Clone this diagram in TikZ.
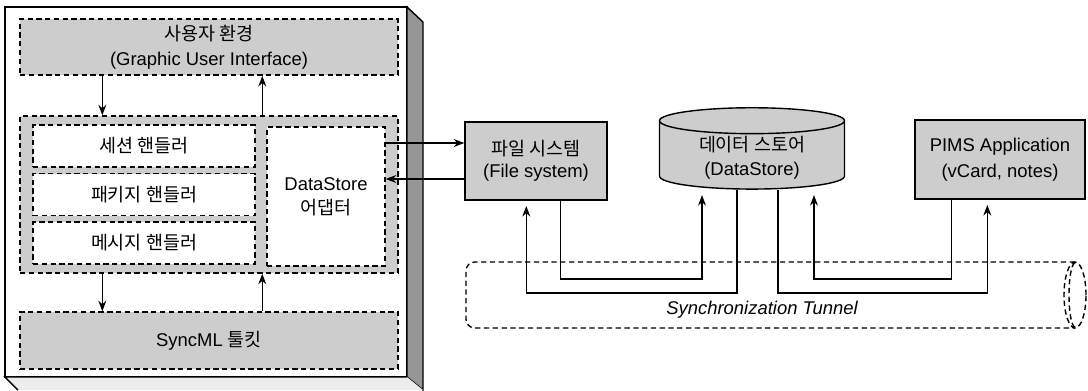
\documentclass[tikz,border=0pt]{standalone}
\usepackage{fontspec}
\setmainfont{Liberation Sans}
\newfontfamily\kr{Noto Sans CJK KR}
\usetikzlibrary{arrows.meta, shapes.geometric, positioning}
\definecolor{dots}{RGB}{205,205,205}
\definecolor{sideface}{RGB}{150,150,150}

\begin{document}
\begin{tikzpicture}[x=0.02cm, y=-0.02cm, line width=0.8pt,
    font=\fontsize{10.5}{12.5}\selectfont, >={Stealth[length=6pt, width=4.5pt]},
    dashline/.style={dash pattern=on 3pt off 2pt},
    layer/.style={draw, dashline, fill=dots, minimum width=7.56cm, align=center},
    part/.style={draw, dashline, fill=white, align=center},
    store/.style={draw, fill=dots, align=center},
    tunnel/.style={draw, dashline}]

    \useasboundingbox (0,0) rectangle (1088,390);

    % Slab
    \draw[fill=white] (5,7) rectangle (407,377);
    \draw[fill=sideface] (407,7) -- (423,22) -- (423,390) -- (407,377) -- cycle;
    \fill[gray!15] (5,377) -- (407,377) -- (423,390) -- (18,390) -- cycle;
    \draw (18,390) -- (5,377) -- (407,377);

    % Layers
    \node[layer, minimum height=1.12cm] (gui) at (209,47) {{\kr 사용자 환경}\\[2pt](Graphic User Interface)};
    \node[layer, minimum height=3.14cm] (core) at (209,194.5) {};
    \node[layer, minimum height=1.14cm] (toolkit) at (209,340.5) {SyncML {\kr 툴킷}};

    \node[part, minimum width=4.44cm, minimum height=0.84cm] (session) at (144,146) {\kr 세션 핸들러};
    \node[part, minimum width=4.44cm, minimum height=0.84cm] (package) at (144,194.5) {\kr 패키지 핸들러};
    \node[part, minimum width=4.44cm, minimum height=0.84cm] (message) at (144,243) {\kr 메시지 핸들러};
    \node[part, minimum width=2.36cm, minimum height=2.78cm] (adapter) at (326,196.5) {DataStore\\[1pt]{\kr 어댑터}};

    \draw[->] ([xshift=1.66cm]gui.south west) -- ([xshift=1.66cm]core.north west);
    \draw[<-] ([xshift=4.86cm]gui.south west) -- ([xshift=4.86cm]core.north west);
    \draw[->] ([xshift=1.66cm]core.south west) -- ([xshift=1.66cm]toolkit.north west);
    \draw[<-] ([xshift=4.86cm]core.south west) -- ([xshift=4.86cm]toolkit.north west);

    % Stores
    \node[store, minimum width=2.84cm, minimum height=1.56cm] (files) at (536,161) {{\kr 파일 시스템}\\(File system)};
    \node[store, cylinder, shape border rotate=90, aspect=0.22, inner ysep=1pt, minimum width=3.7cm, minimum height=1.2cm] (datastore) at (752,157.5) {{\kr 데이터 스토어}\\[1pt](DataStore)};
    \node[store, minimum width=3.4cm, minimum height=1.58cm] (pims) at (1000,159.5) {PIMS Application\\[2pt](vCard, notes)};

    \coordinate (fsin) at ([yshift=0.36cm]files.west);
    \coordinate (fsout) at ([yshift=-0.36cm]files.west);
    \draw[->] (fsin -| adapter.east) -- (fsin);
    \draw[<-] (fsout -| adapter.east) -- (fsout);

    % Tunnel
    \draw[tunnel, fill=white, rounded corners=5pt] (1075,262) -- (466,262) -- (466,328) -- (1075,328);
    \draw[tunnel] (1075,295) ellipse [x radius=0.22cm, y radius=0.66cm];
    \draw[tunnel] (1075,263) arc[start angle=90, end angle=270, x radius=0.12cm, y radius=0.64cm];
    \node[font=\fontsize{10.5}{12.5}\selectfont\itshape] (label) at (762,310) {Synchronization Tunnel};

    \coordinate (lo) at (0,279);
    \coordinate (hi) at (0,293);
    \coordinate (fs1) at ([xshift=1.24cm]files.south west);
    \coordinate (fs2) at ([xshift=1.92cm]files.south west);
    \coordinate (ds1) at ([xshift=-1.0cm]datastore.south);
    \coordinate (ds2) at ([xshift=-0.3cm]datastore.south);
    \coordinate (ds3) at ([xshift=0.52cm]datastore.south);
    \coordinate (ds4) at ([xshift=1.24cm]datastore.south);
    \coordinate (pm1) at ([xshift=0.74cm]pims.south west);
    \coordinate (pm2) at ([xshift=1.46cm]pims.south west);

    \draw[->, shorten >=3pt] (fs2) -- (fs2 |- lo) -- (ds1 |- lo) -- (ds1);
    \draw[->, shorten >=3pt] (ds2) -- (ds2 |- hi) -- (fs1 |- hi) -- (fs1);
    \draw[->, shorten >=3pt] (ds3) -- (ds3 |- hi) -- (pm2 |- hi) -- (pm2);
    \draw[->, shorten >=3pt] (pm1) -- (pm1 |- lo) -- (ds4 |- lo) -- (ds4);

\end{tikzpicture}
\end{document}
